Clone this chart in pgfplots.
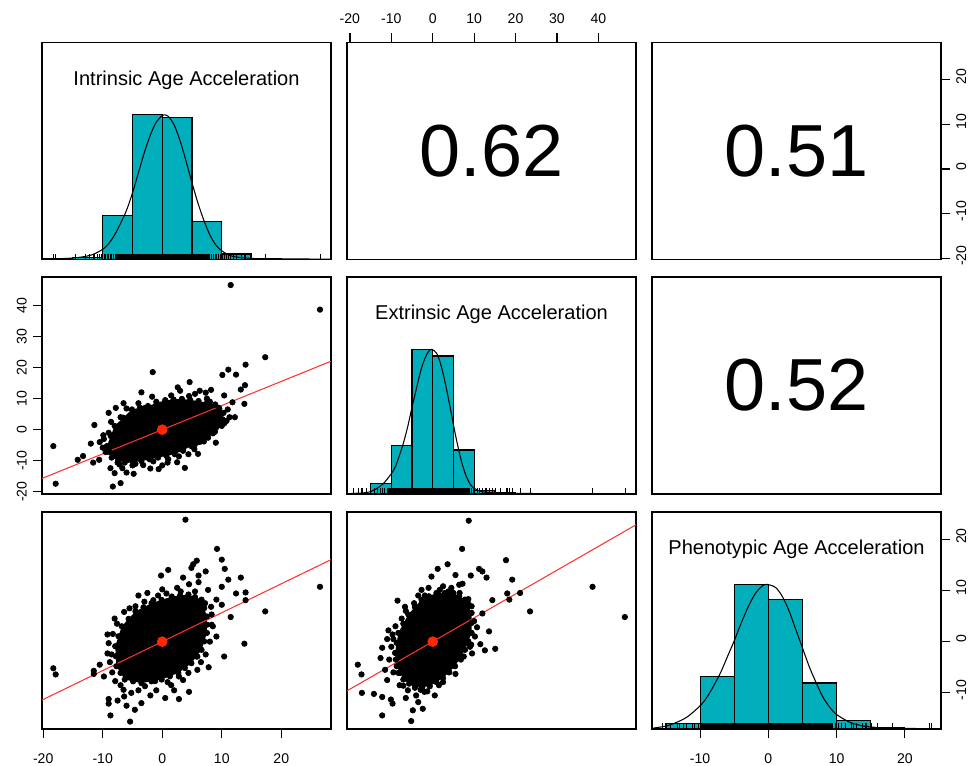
\documentclass[border=0pt]{standalone}
\usepackage{pgfplots}
\pgfplotsset{compat=1.18}
\usepackage{fontspec}
\setmainfont{Liberation Sans}
\definecolor{histc}{RGB}{0,175,187}
\definecolor{regl}{RGB}{250,50,50}
\definecolor{redp}{RGB}{255,40,0}
\pgfplotsset{
  panel/.style={scale only axis, width=5.78cm, height=4.34cm, anchor=south west,
    axis line style={line width=0.7pt, black}, xtick=\empty, ytick=\empty,
    tick align=outside, major tick length=0.18cm, tick style={line width=0.7pt, black},
    /pgf/number format/assume math mode=true,
    ticklabel style={font=\fontsize{8}{9}\selectfont}},
  pts/.style={only marks, mark=*, mark size=1.55pt, mark options={fill=black, draw=black}},
  core/.style={fill=black, draw=none},
  bars/.style={ybar interval, fill=histc, draw=black, line width=0.6pt},
  dens/.style={black, smooth, line width=0.6pt},
  rug/.style={ycomb, black, line width=0.3pt},
}
\tikzset{
  ttl/.style={anchor=base, font=\fontsize{11.4}{12}\selectfont},
  corr/.style={anchor=center, font=\fontsize{42}{42}\selectfont},
}
\begin{document}
\begin{tikzpicture}
\useasboundingbox (0,0) rectangle (19.38cm,15.3cm);
% ---------------- Row 1 ----------------
% (1,1) Intrinsic histogram
\begin{axis}[panel, at={(0.84cm,10.11cm)}, xmin=-20.2, xmax=28.35, ymin=0, ymax=1.5]
\addplot[bars] coordinates {(-20,0.004)(-15,0.015)(-10,0.303)(-5,1.0)(0,0.983)(5,0.261)(10,0.038)(15,0.005)(20,0.003)(25,0.003)(30,0.003)};
\addplot[fill=black, draw=none] coordinates {(-8,0)(8,0)(8,0.04)(-8,0.04)};
\addplot[rug] coordinates {(-18.3,0.04)(-17.9,0.04)(-14.6,0.04)(-13.0,0.04)(-12.2,0.04)(-11.6,0.04)(-11.4,0.04)(-11.0,0.04)(-10.6,0.04)(-10.2,0.04)(-9.8,0.04)(-9.5,0.04)(-9.2,0.04)(-9.0,0.04)(-8.7,0.04)(-8.5,0.04)(-8.3,0.04)(8.3,0.04)(8.6,0.04)(8.9,0.04)(9.1,0.04)(9.4,0.04)(9.8,0.04)(10.1,0.04)(10.4,0.04)(10.8,0.04)(11.1,0.04)(11.5,0.04)(12.0,0.04)(12.4,0.04)(13.2,0.04)(13.8,0.04)(14.0,0.04)(14.8,0.04)(17.3,0.04)(26.5,0.04)};
\addplot[dens] coordinates {(-20,0.003)(-15,0.01)(-12,0.03)(-10,0.07)(-9,0.11)(-8,0.17)(-7,0.25)(-6,0.34)(-5,0.46)(-4,0.6)(-3,0.74)(-2,0.86)(-1,0.95)(0,0.995)(0.3,1.0)(1,0.99)(2,0.93)(3,0.82)(4,0.68)(5,0.53)(6,0.39)(7,0.27)(8,0.17)(9,0.1)(10,0.06)(11,0.035)(12,0.02)(14,0.01)(16,0.006)(20,0.004)(26,0.003)(28.3,0.002)};
\node[ttl] at (rel axis cs:0.5,0.802) {Intrinsic Age Acceleration};
\end{axis}
% (1,2) correlation 0.62 with top axis (Extrinsic)
\begin{axis}[panel, at={(6.94cm,10.11cm)}, xmin=-20.7, xmax=49.1, ymin=-20.2, ymax=28.3,
  xtick={-20,-10,0,10,20,30,40}, xtick pos=right, xticklabel pos=right,
  xticklabel style={yshift=0.07cm}]
\node[corr] at (rel axis cs:0.5,0.5) {0.62};
\end{axis}
% (1,3) correlation 0.51 with right axis (Intrinsic)
\begin{axis}[panel, at={(13.04cm,10.11cm)}, xmin=-17.05, xmax=25.3, ymin=-20.2, ymax=28.3,
  ytick={-20,-10,0,10,20}, ytick pos=right, yticklabel pos=right,
  yticklabel style={rotate=90, anchor=north, xshift=0.06cm}]
\node[corr] at (rel axis cs:0.5,0.5) {0.51};
\end{axis}
% ---------------- Row 2 ----------------
% (2,1) scatter Intrinsic vs Extrinsic with left axis
\begin{axis}[panel, at={(0.84cm,5.42cm)}, xmin=-20.2, xmax=28.35, ymin=-20.7, ymax=49.1,
  ytick={-20,-10,0,10,20,30,40}, ytick pos=left, yticklabel pos=left,
  yticklabel style={rotate=90, anchor=south}]
\addplot[core] coordinates {(-9.3,-5.3)(-8.0,1.2)(-5.1,6.5)(-2.4,7.6)(0.5,9.5)(3.3,9.9)(6.1,9.2)(8.9,8.1)(10.3,5.4)(10,1.2)(7.7,-2.6)(4.9,-5.3)(2.1,-7.9)(-0.7,-9.0)(-3.5,-10.1)(-6.3,-10.6)(-8.5,-9.0)(-9.3,-5.3)};
\addplot[pts] coordinates {(-9.3,-5.3)(-8.0,1.2)(-5.1,6.5)(-2.4,7.6)(0.5,9.5)(3.3,9.9)(6.1,9.2)(8.9,8.1)(10.3,5.4)(10,1.2)(7.7,-2.6)(4.9,-5.3)(2.1,-7.9)(-0.7,-9.0)(-3.5,-10.1)(-6.3,-10.6)(-8.5,-9.0)
(-8.65,-2.05)(-6.55,3.85)(-3.75,7.05)(-0.95,8.55)(1.9,9.7)(4.7,9.55)(7.5,8.65)(9.6,6.75)(10.15,3.3)(8.85,-0.7)(6.3,-3.95)(3.5,-6.6)(0.7,-8.45)(-2.1,-9.55)(-4.9,-10.35)(-7.4,-9.8)(-8.9,-7.15)
(11.5,46.5)(26.5,38.6)(17.3,23.3)(14,20.9)(11.1,19.3)(12.4,17.7)(10.1,17.6)(-1.6,18.5)(4.6,15.3)(2.6,13.6)(13.9,14.3)(13.2,12.9)(10.4,11.0)(13.8,8.3)(-1.7,10.6)(6.3,12.5)(7.3,11.9)(-7.8,7.0)(-9,5.4)(-11.4,1.5)(-18.3,-5.3)(-17.9,-17.4)(-8.3,-18.3)(-7.0,-17.2)(-4.8,-14.2)(-0.6,-12.7)(3.8,-12.3)(0.9,-10.6)(4.4,-7.9)(5.4,-6.3)(-11.6,-10.6)(-10.6,-9.7)(-9.5,-7.2)(-8.7,-12.4)(-7.5,-10.6)(-6.7,-12.4)(-5.0,-11.5)(-3.2,-11.4)(9.1,4.7)(10.4,2.0)(8.3,1.7)(6.6,-2.0)(5.5,-4.7)(-1.8,-5.3)
(-9.8,-3.0)(-9.0,-1.0)(-8.6,2.5)(-7.0,4.0)(-6.0,6.8)(-4.0,8.5)(-3.0,6.9)(-1.0,9.0)(1.5,11.0)(2.0,9.2)(4.5,10.8)(5.5,11.5)(7.5,10.0)(8.0,9.0)(9.5,7.0)(11.0,6.5)(11.3,4.0)(10.8,2.8)(9.0,0.5)(8.5,-1.2)(7.0,-3.8)(6.0,-4.0)(3.5,-6.8)(2.8,-8.6)(1.0,-9.5)(-1.5,-10.2)(-2.5,-9.0)(-4.5,-11.0)(-5.8,-9.8)(-7.2,-11.2)(-8.0,-8.0)(-9.2,-7.0)(-10.0,-5.8)(-10.5,-4.0)(-9.9,-1.8)(-6.5,-9.5)(-12.0,-4.5)(-8.0,-14.0)(-6.0,-13.8)(-2.0,-12.5)(0.0,-11.5)(2.5,-10.5)(6.0,-7.8)(3.0,12.5)(-3.5,12.0)(-6.5,8.5)(8.2,12.8)(9.0,-4.2)(11.8,8.8)(12.2,4.0)(-13.3,-8.5)(-14.2,-9.7)};
\addplot[regl, line width=0.6pt] coordinates {(-20.2,-15.7)(28.35,22.0)};
\addplot[only marks, mark=*, mark size=2.8pt, mark options={fill=redp, draw=redp}] coordinates {(0,0)};
\end{axis}
% (2,2) Extrinsic histogram
\begin{axis}[panel, at={(6.94cm,5.42cm)}, xmin=-20.7, xmax=49.1, ymin=0, ymax=1.5]
\addplot[bars] coordinates {(-20,0.003)(-15,0.074)(-10,0.332)(-5,1.0)(0,0.954)(5,0.304)(10,0.025)(15,0.01)(20,0.006)(25,0.001)(30,0.001)(35,0.002)(40,0.002)(45,0.002)(50,0)};
\addplot[fill=black, draw=none] coordinates {(-11,0)(9,0)(9,0.04)(-11,0.04)};
\addplot[rug] coordinates {(-19.2,0.04)(-18.1,0.04)(-17.2,0.04)(-17.1,0.04)(-16.0,0.04)(-14.2,0.04)(-13.5,0.04)(-12.6,0.04)(-12.2,0.04)(-11.6,0.04)(9.4,0.04)(9.8,0.04)(10.7,0.04)(11.2,0.04)(12.0,0.04)(12.6,0.04)(13.0,0.04)(13.6,0.04)(14.4,0.04)(15.1,0.04)(16.2,0.04)(17.7,0.04)(18.0,0.04)(18.5,0.04)(19.2,0.04)(21.1,0.04)(23.5,0.04)(38.6,0.04)(46.4,0.04)};
\addplot[dens] coordinates {(-20.7,0.002)(-16,0.01)(-14,0.03)(-12,0.07)(-10,0.14)(-9,0.19)(-8,0.27)(-7,0.36)(-6,0.47)(-5,0.6)(-4,0.72)(-3,0.84)(-2,0.93)(-1,0.985)(-0.2,1.0)(1,0.97)(2,0.89)(3,0.77)(4,0.63)(5,0.48)(6,0.34)(7,0.22)(8,0.13)(9,0.07)(10,0.04)(12,0.015)(15,0.008)(20,0.005)(25,0.003)(30,0.002)(40,0.002)(49,0.001)};
\node[ttl] at (rel axis cs:0.5,0.802) {Extrinsic Age Acceleration};
\end{axis}
% (2,3) correlation 0.52
\begin{axis}[panel, at={(13.04cm,5.42cm)}, xmin=-17.05, xmax=25.3, ymin=-20.7, ymax=49.1]
\node[corr] at (rel axis cs:0.5,0.5) {0.52};
\end{axis}
% ---------------- Row 3 ----------------
% (3,1) scatter Intrinsic vs Phenotypic with bottom axis
\begin{axis}[panel, at={(0.84cm,0.72cm)}, xmin=-20.2, xmax=28.35, ymin=-17.05, ymax=25.3,
  xtick={-20,-10,0,10,20}, xtick pos=left, xticklabel pos=left,
  xticklabel style={yshift=-0.18cm}]
\addplot[core] coordinates {(-7.9,-0.9)(-6.8,3.0)(-4.5,5.9)(-1.8,7.5)(1.6,8.8)(4.4,9.2)(6.6,8.2)(7.5,4.9)(7.5,1.7)(6.6,-1.6)(4.9,-4.2)(2.7,-6.1)(-0.1,-7.4)(-3.5,-8.1)(-6.3,-7.4)(-7.7,-4.8)(-7.9,-0.9)};
\addplot[pts] coordinates {(-7.9,-0.9)(-6.8,3.0)(-4.5,5.9)(-1.8,7.5)(1.6,8.8)(4.4,9.2)(6.6,8.2)(7.5,4.9)(7.5,1.7)(6.6,-1.6)(4.9,-4.2)(2.7,-6.1)(-0.1,-7.4)(-3.5,-8.1)(-6.3,-7.4)(-7.7,-4.8)
(-7.35,1.05)(-5.65,4.45)(-3.15,6.7)(-0.1,8.15)(3.0,9.0)(5.5,8.7)(7.05,6.55)(7.5,3.3)(7.05,0.05)(5.75,-2.9)(3.8,-5.15)(1.3,-6.75)(-1.8,-7.75)(-4.9,-7.75)(-7.0,-6.1)(-7.8,-2.85)
(3.9,23.8)(9.2,18.1)(10,16.0)(10.5,14.2)(5.2,15.1)(4.9,14.4)(7.3,13.7)(-0.2,12.9)(6.1,12.9)(11.1,12.1)(13.2,12.5)(10.0,10.7)(12.4,9.4)(14.0,9.6)(14.0,8.1)(26.5,10.7)(17.3,5.9)(11.5,4.8)(13.8,-0.4)(10.4,-2.9)(9.1,1.0)(8.3,3.3)(9.1,8.2)(5.9,-5.5)(4.4,-6.1)(4.5,-9.8)(2.8,-11.2)(-5.4,-15.6)(-4.6,-13.3)(-8.7,-14.4)(-9.0,-11.2)(-9.0,-12.1)(-6.4,-10.7)(-18.3,-5.2)(-17.9,-6.4)(-11.5,-5.7)(-11.5,-6.3)(-9.2,1.4)(-9.0,-0.3)(-9.2,-2.3)(-6.4,5.8)(-4.5,6.9)(-1.5,8.1)(-0.7,9.0)(0.7,9.4)(3.1,9.8)(4.5,11.2)(6.1,11.6)(7.7,10.1)(8.3,5.3)(6.5,6.2)(-10.5,-4.5)(-7.9,-7.7)(-6.5,-9.4)(-2.9,-8.7)(-1.2,-7.7)(0.9,-7.9)(2.8,-6.8)(5.9,-2.9)
(-8.5,-2.5)(-8.3,1.5)(-7.6,3.5)(-5.5,6.5)(-3.0,7.8)(-2.5,9.5)(0.0,10.2)(2.5,10.5)(5.5,9.8)(7.2,7.5)(8.2,6.8)(8.5,3.0)(8.0,0.0)(7.3,-2.5)(6.5,-4.0)(3.5,-7.5)(1.5,-8.5)(-1.0,-9.5)(-2.0,-10.5)(-4.0,-9.5)(-5.2,-10.0)(-7.0,-8.5)(-8.4,-6.0)(-8.8,-4.0)(-3.5,-12.0)(-6.0,-12.5)(-7.5,-11.5)(0.5,-11.0)(2.0,-9.5)(7.8,-5.0)(10.0,7.2)(3.5,12.5)(-4.0,9.0)(-8.0,4.5)(-9.8,-6.8)(1.0,14.0)(5.8,15.8)};
\addplot[regl, line width=0.6pt] coordinates {(-20.2,-11.4)(28.35,16.0)};
\addplot[only marks, mark=*, mark size=2.8pt, mark options={fill=redp, draw=redp}] coordinates {(0,0)};
\end{axis}
% (3,2) scatter Extrinsic vs Phenotypic
\begin{axis}[panel, at={(6.94cm,0.72cm)}, xmin=-20.7, xmax=49.1, ymin=-17.05, ymax=25.3]
\addplot[core] coordinates {(-9.1,-2.2)(-8.3,1.7)(-5.9,5.3)(-2.7,8.2)(0.9,9.5)(5.0,9.5)(7.8,8.2)(9.4,5.6)(9.4,1.7)(7.8,-1.6)(5.4,-4.8)(2.5,-7.1)(-0.7,-8.7)(-4.3,-9.0)(-7.1,-7.4)(-8.7,-4.8)(-9.1,-2.2)};
\addplot[pts] coordinates {(-9.1,-2.2)(-8.3,1.7)(-5.9,5.3)(-2.7,8.2)(0.9,9.5)(5.0,9.5)(7.8,8.2)(9.4,5.6)(9.4,1.7)(7.8,-1.6)(5.4,-4.8)(2.5,-7.1)(-0.7,-8.7)(-4.3,-9.0)(-7.1,-7.4)(-8.7,-4.8)
(-8.7,-0.25)(-7.1,3.5)(-4.3,6.75)(-0.9,8.85)(2.95,9.5)(6.4,8.85)(8.6,6.9)(9.4,3.65)(8.6,0.05)(6.6,-3.2)(3.95,-5.95)(0.9,-7.9)(-2.5,-8.85)(-5.7,-8.2)(-7.9,-6.1)(-8.9,-3.5)
(8.7,23.6)(7.1,18.1)(17.7,15.9)(3.6,15.1)(1.2,14.2)(11.2,14.2)(12.0,13.7)(-0.3,12.7)(9.2,12.9)(13,12.5)(19.2,12.1)(38.6,10.7)(46.4,4.8)(18,9.4)(21.1,9.5)(18.5,8.2)(23.5,5.9)(14.4,8.1)(13.6,2.0)(15.1,-1.4)(12.6,-1.7)(9.5,-2.3)(10.7,2.8)(9.3,-0.6)(5.5,-6.3)(2.5,-7.9)(-1.3,-9.7)(-2.4,-13.1)(-4.8,-13.4)(-5.2,-15.5)(-12.2,-14.4)(-10.1,-11.3)(-9.7,-12.1)(-12.2,-10.8)(-14.2,-10.2)(-17.1,-10.0)(-17.2,-6.4)(-18.1,-4.5)(-12.6,-3.2)(-12.2,-1.2)(-10.7,2.2)(-9.7,1.4)(-6.7,6.8)(-2.7,10.1)(-1.9,9.0)(1.7,10.1)(3.8,9.8)(6.4,11.1)(7.2,11.3)(8.6,8.3)(9.4,6.9)(8.6,-0.3)(7.5,-2.9)(-7.1,-8.6)(-2.9,-9.4)(-8.3,-6.1)
(-10.0,-1.0)(-9.5,0.5)(-9.0,3.0)(-7.5,4.5)(-6.5,6.0)(-4.5,7.5)(-3.5,9.0)(-1.0,10.5)(2.5,10.8)(4.5,10.5)(6.5,9.5)(8.5,7.5)(10.0,4.0)(10.2,1.0)(9.0,-1.0)(6.8,-3.5)(4.0,-6.0)(1.5,-8.5)(-2.0,-9.8)(-4.0,-10.5)(-6.0,-9.5)(-8.0,-8.5)(-9.5,-6.0)(-10.5,-3.5)(-11.0,-7.5)(-11.5,-5.5)(-6.5,-11.0)(-3.5,-11.8)(0.5,-10.5)(12.0,5.5)(11.5,-0.5)(-11.0,0.5)(-8.5,8.0)(5.5,13.0)};
\addplot[regl, line width=0.6pt] coordinates {(-20.7,-9.6)(49.1,22.8)};
\addplot[only marks, mark=*, mark size=2.8pt, mark options={fill=redp, draw=redp}] coordinates {(0,0)};
\end{axis}
% (3,3) Phenotypic histogram with bottom axis
\begin{axis}[panel, at={(13.04cm,0.72cm)}, xmin=-17.05, xmax=25.3, ymin=0, ymax=1.5,
  xtick={-10,0,10,20}, xtick pos=left, xticklabel pos=left,
  xticklabel style={yshift=-0.18cm}]
\addplot[bars] coordinates {(-20,0.003)(-15,0.041)(-10,0.361)(-5,1.0)(0,0.894)(5,0.318)(10,0.057)(15,0.008)(20,0)};
\addplot[fill=black, draw=none] coordinates {(-10,0)(9.5,0)(9.5,0.04)(-10,0.04)};
\addplot[rug] coordinates {(-15.6,0.04)(-15.5,0.04)(-14.4,0.04)(-13.4,0.04)(-13.3,0.04)(-13.1,0.04)(-12.4,0.04)(-12.1,0.04)(-11.2,0.04)(-10.8,0.04)(-10.2,0.04)(9.8,0.04)(10.2,0.04)(10.7,0.04)(11.2,0.04)(12.1,0.04)(12.5,0.04)(12.9,0.04)(13.7,0.04)(14.2,0.04)(14.4,0.04)(15.1,0.04)(15.9,0.04)(16.0,0.04)(18.1,0.04)(23.6,0.04)(23.8,0.04)};
\addplot[dens] coordinates {(-17,0.005)(-15,0.02)(-14,0.035)(-12,0.08)(-10,0.16)(-9,0.22)(-8,0.3)(-7,0.39)(-6,0.5)(-5,0.61)(-4,0.73)(-3,0.84)(-2,0.93)(-1,0.985)(-0.3,1.0)(1,0.98)(2,0.92)(3,0.82)(4,0.69)(5,0.56)(6,0.43)(7,0.32)(8,0.22)(9,0.15)(10,0.1)(12,0.045)(14,0.02)(16,0.01)(18,0.006)(20,0.004)(25,0.002)};
\node[ttl] at (rel axis cs:0.5,0.802) {Phenotypic Age Acceleration};
\end{axis}
% overlay for right axis (Phenotypic) of panel (3,3)
\begin{axis}[panel, at={(13.04cm,0.72cm)}, xmin=-17.05, xmax=25.3, ymin=-17.05, ymax=25.3,
  ytick={-10,0,10,20}, ytick pos=right, yticklabel pos=right,
  yticklabel style={rotate=90, anchor=north, xshift=0.06cm}]
\end{axis}
\end{tikzpicture}
\end{document}
